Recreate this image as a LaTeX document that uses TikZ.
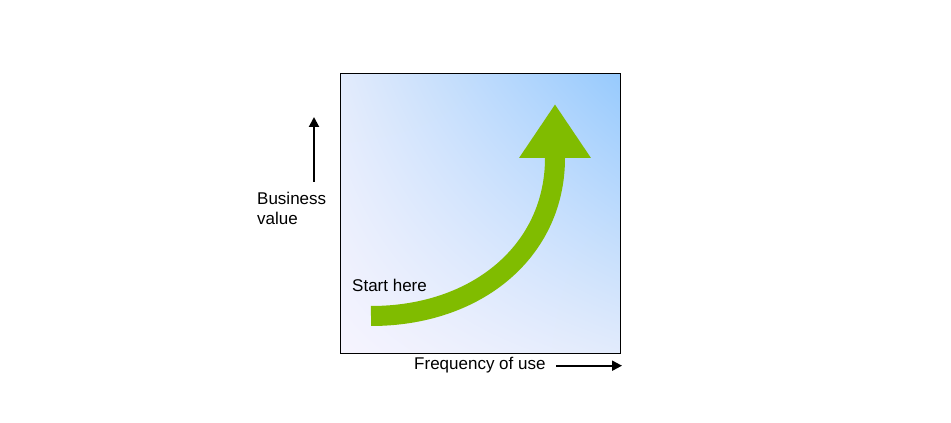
\documentclass[tikz,border=0pt]{standalone}
\usepackage{fontspec}
\setmainfont{Liberation Sans}
\usetikzlibrary{positioning,arrows.meta,shadings}

\definecolor{boxlo}{HTML}{F6F4FE}
\definecolor{boxhi}{HTML}{97CAFD}
\definecolor{boxmid}{HTML}{E2EBFC}
\definecolor{growth}{HTML}{80BC00}

\begin{document}
\begin{tikzpicture}[x=1pt, y=1pt, font=\fontsize{17}{20}\selectfont]
    \useasboundingbox (0,0) rectangle (951,423);
    \coordinate (ll) at (340,69);
    \coordinate [right=280pt of ll, yshift=280pt] (ur);
    \coordinate [right=31pt of ll, yshift=38pt] (tail);
    \coordinate [right=215pt of ll, yshift=196pt] (bend);
    \coordinate [right=215pt of ll, yshift=250pt] (tip);
    \coordinate [left=26pt of ll, yshift=172pt] (ybot);
    \coordinate [left=26pt of ll, yshift=237pt] (ytop);
    \coordinate [below=11.7pt of ll, xshift=216pt] (xbeg);
    \coordinate [below=11.7pt of ll, xshift=282pt] (xend);

    \shade [lower left=boxlo, upper right=boxhi, upper left=boxmid, lower right=boxmid] (ll) rectangle (ur);
    \draw [line width=1pt] (ll) rectangle (ur);

    \node [anchor=base west, inner sep=0pt] (start) at (352,131) {Start here};
    \node [anchor=base west, inner sep=0pt, align=left] (value) at (257,198) {Business\\value};
    \node [anchor=base west, inner sep=0pt] (freq) at (414,53) {Frequency of use};

    %\fill (480,209) circle (0.4pt);
    \draw [growth, line width=20pt, -{Triangle[length=54pt, width=68pt]}]
        (tail) .. controls (478,107) and (555,173) .. (bend) -- (tip);
    \draw [line width=2pt, -{Triangle[length=10pt, width=10pt]}] (ybot) -- (ytop);
    \draw [line width=2pt, -{Triangle[length=10pt, width=10pt]}] (xbeg) -- (xend);
\end{tikzpicture}
\end{document}
